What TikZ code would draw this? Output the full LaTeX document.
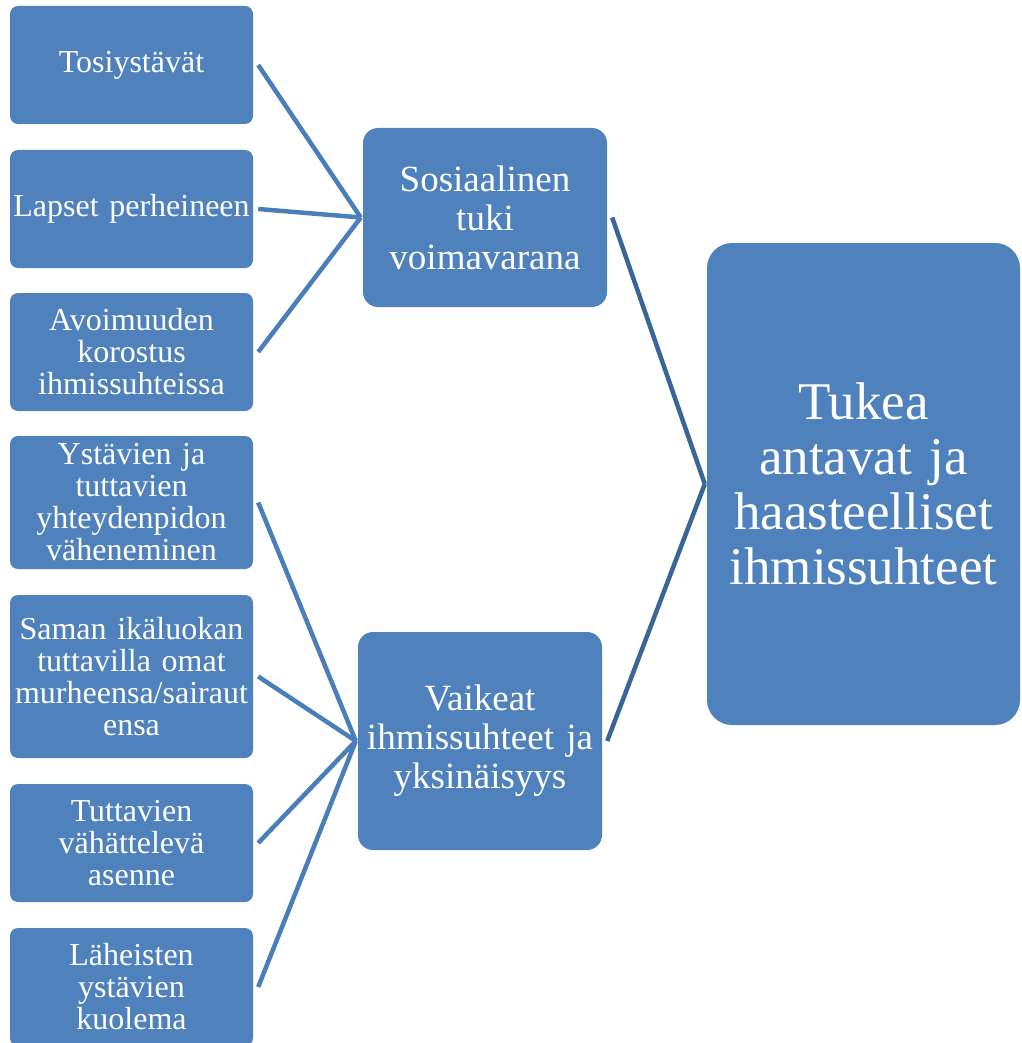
\documentclass[tikz,border=0pt]{standalone}
\usepackage{fontspec}
\setmainfont{Liberation Serif}
\usetikzlibrary{positioning}
\definecolor{boxblue}{HTML}{4F81BD}
\definecolor{linkblue}{HTML}{4A7EBB}
\definecolor{trunkblue}{HTML}{3A6598}

\begin{document}
\begin{tikzpicture}[x=1pt,y=-1pt,
    box/.style={rectangle,fill=boxblue,text=white,align=center,inner sep=0pt},
    leaf/.style={box,rounded corners=8pt,text width=243pt,minimum height=118pt,
        font=\fontsize{32}{32}\selectfont},
    branch/.style={box,rounded corners=15pt,text width=244pt,
        font=\fontsize{37}{39}\selectfont},
    root/.style={box,rounded corners=25pt,text width=313pt,minimum height=482pt,
        font=\fontsize{53}{55}\selectfont},
    link/.style={draw=linkblue,line width=4.5pt},
    trunk/.style={draw=trunkblue,line width=4.5pt}]
    \useasboundingbox (0,0) rectangle (1021,1043);
    % left column
    \node [leaf] (friends) at (131.5,65) {Tosiystävät};
    \node [leaf] (children) at (131.5,209) {Lapset perheineen};
    \node [leaf] (openness) at (131.5,352) {Avoimuuden\\korostus\\ihmissuhteissa};
    \node [leaf,minimum height=133pt] (contact) at (131.5,502.5) {Ystävien ja\\tuttavien\\yhteydenpidon\\väheneminen};
    \node [leaf,minimum height=163pt] (peers) at (131.5,676.5) {Saman ikäluokan\\tuttavilla omat\\murheensa/sairaut\\ensa};
    \node [leaf] (attitude) at (131.5,843) {Tuttavien\\vähättelevä\\asenne};
    \node [leaf] (death) at (131.5,987) {Läheisten\\ystävien\\kuolema};
    % middle column
    \node [branch,minimum height=179pt] (support) at (485,217.5) {Sosiaalinen\\tuki\\voimavarana};
    \node [branch,minimum height=218pt] (hard) at (480,741) {Vaikeat\\ihmissuhteet ja\\yksinäisyys};
    % right
    \node [root] (main) at (863.5,484) {Tukea\\antavat ja\\haasteelliset\\ihmissuhteet};
    % connectors
    \draw [link] ([xshift=5pt]friends.east) -- ([xshift=-2pt]support.west);
    \draw [link] ([xshift=5pt]children.east) -- ([xshift=-2pt]support.west);
    \draw [link] ([xshift=5pt]openness.east) -- ([xshift=-2pt]support.west);
    \draw [link] ([xshift=5pt]contact.east) -- ([xshift=-2pt]hard.west);
    \draw [link] ([xshift=5pt]peers.east) -- ([xshift=-2pt]hard.west);
    \draw [link] ([xshift=5pt]attitude.east) -- ([xshift=-2pt]hard.west);
    \draw [link] ([xshift=5pt]death.east) -- ([xshift=-2pt]hard.west);
    \draw [trunk] ([xshift=5pt]support.east) -- ([xshift=-2pt]main.west);
    \draw [trunk] ([xshift=5pt]hard.east) -- ([xshift=-2pt]main.west);
\end{tikzpicture}
\end{document}
